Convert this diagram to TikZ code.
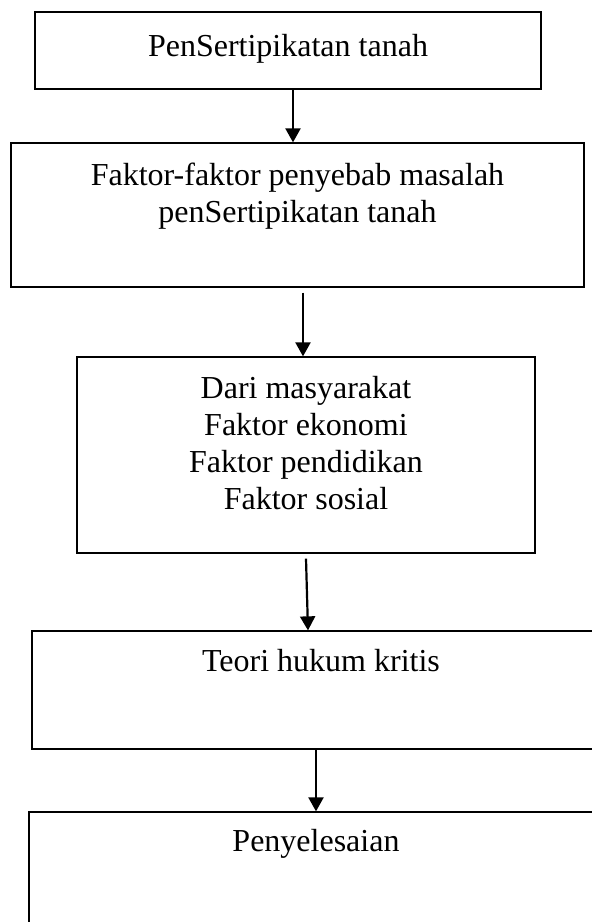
\documentclass[tikz,border=0pt]{standalone}
\usepackage{fontspec}
\setmainfont{Liberation Serif}
\usetikzlibrary{positioning,arrows.meta}
\tikzset{
  box/.style={draw, line width=1.3pt, inner sep=0pt},
  txt/.style={align=center, inner sep=0pt, font=\fontsize{32}{37}\selectfont},
  flow/.style={line width=2.2pt, -{Triangle[length=14pt,width=15pt]}}
}
\begin{document}
\begin{tikzpicture}[x=1pt,y=-1pt]
  \clip (0,0) rectangle (592,922);
  % boxes
  \node[box, minimum width=506pt, minimum height=77pt] (b1) at (288,50.5) {};
  \node[box, minimum width=573pt, minimum height=144pt] (b2) at (297.5,215) {};
  \node[box, minimum width=458pt, minimum height=196pt] (b3) at (306,455) {};
  \node[box, minimum width=578pt, minimum height=118pt] (b4) at (321,690) {};
  \node[box, minimum width=574pt, minimum height=140pt] (b5) at (316,882) {};
  % texts
  \node[txt, below=23pt of b1.north] (t1) {PenSertipikatan tanah};
  \node[txt, below=20pt of b2.north] (t2) {Faktor-faktor penyebab masalah\\penSertipikatan tanah};
  \node[txt, below=20pt of b3.north] (t3) {Dari masyarakat\\Faktor ekonomi\\Faktor pendidikan\\Faktor sosial};
  \node[txt, below=19pt of b4.north] (t4) {Teori hukum kritis};
  \node[txt, below=18pt of b5.north] (t5) {Penyelesaian};
  % arrows
  \draw[flow] ([xshift=5pt]b1.south) -- ([xshift=-4.5pt]b2.north);
  \draw[flow] ([xshift=5.5pt,yshift=-5pt]b2.south) -- ([xshift=-3pt]b3.north);
  \draw[flow] ([yshift=-5pt]b3.south) -- ([xshift=-13pt]b4.north);
  \draw[flow] ([xshift=-5pt]b4.south) -- (b5.north);
\end{tikzpicture}
\end{document}
